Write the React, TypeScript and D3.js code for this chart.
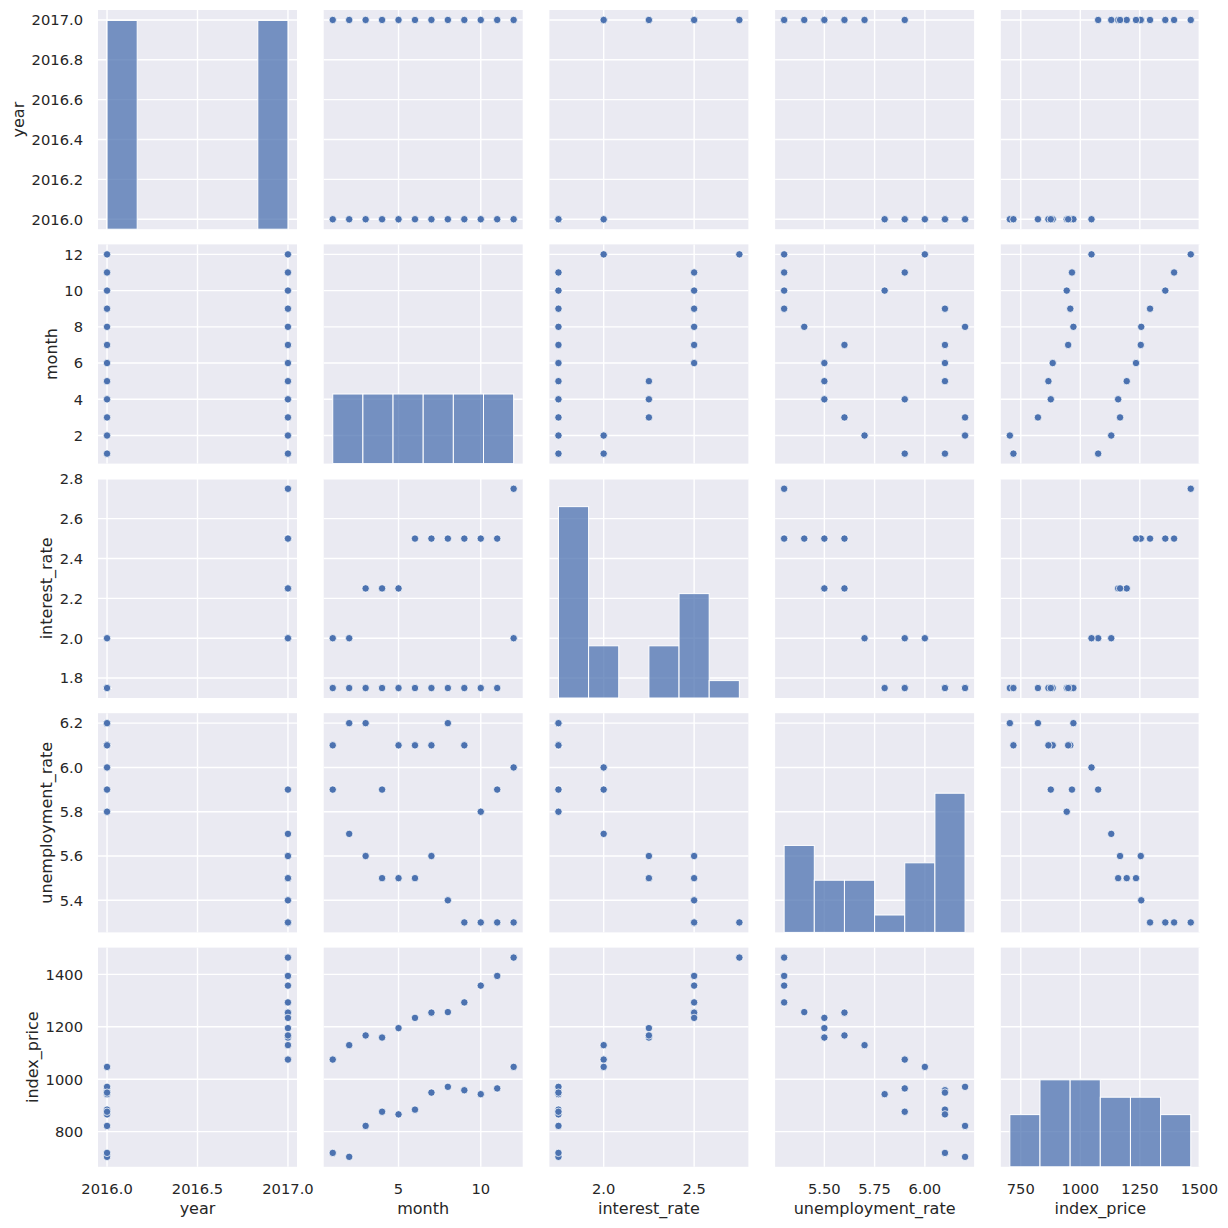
import React from 'react';
import * as d3 from 'd3';

// ---- data (economic index dataset) ----
const years = [2017, 2017, 2017, 2017, 2017, 2017, 2017, 2017, 2017, 2017, 2017, 2017, 2016, 2016, 2016, 2016, 2016, 2016, 2016, 2016, 2016, 2016, 2016, 2016];
const months = [12, 11, 10, 9, 8, 7, 6, 5, 4, 3, 2, 1, 12, 11, 10, 9, 8, 7, 6, 5, 4, 3, 2, 1];
const interestRates = [2.75, 2.5, 2.5, 2.5, 2.5, 2.5, 2.5, 2.25, 2.25, 2.25, 2, 2, 2, 1.75, 1.75, 1.75, 1.75, 1.75, 1.75, 1.75, 1.75, 1.75, 1.75, 1.75];
const unemploymentRates = [5.3, 5.3, 5.3, 5.3, 5.4, 5.6, 5.5, 5.5, 5.5, 5.6, 5.7, 5.9, 6, 5.9, 5.8, 6.1, 6.2, 6.1, 6.1, 6.1, 5.9, 6.2, 6.2, 6.1];
const indexPrices = [1464, 1394, 1357, 1293, 1256, 1254, 1234, 1195, 1159, 1167, 1130, 1075, 1047, 965, 943, 958, 971, 949, 884, 866, 876, 822, 704, 719];

// histogram counts (6 bins each)
const yearHist = [12, 0, 0, 0, 0, 12];
const monthHist = [4, 4, 4, 4, 4, 4];
const interestHist = [11, 3, 0, 3, 6, 1];
const unemploymentHist = [5, 3, 3, 1, 4, 8];
const indexHist = [3, 5, 5, 4, 4, 3];

// ticks
const yearYTicks = [2016.0, 2016.2, 2016.4, 2016.6, 2016.8, 2017.0];
const yearXTicks = [2016.0, 2016.5, 2017.0];
const monthYTicks = [2, 4, 6, 8, 10, 12];
const monthXTicks = [5, 10];
const interestYTicks = [1.8, 2.0, 2.2, 2.4, 2.6, 2.8];
const interestXTicks = [2.0, 2.5];
const unemploymentYTicks = [5.4, 5.6, 5.8, 6.0, 6.2];
const unemploymentXTicks = [5.5, 5.75, 6.0];
const indexYTicks = [800, 1000, 1200, 1400];
const indexXTicks = [750, 1000, 1250, 1500];

const names = ['year', 'month', 'interest_rate', 'unemployment_rate', 'index_price'];

const vars = [
  { name: names[0], values: years, hist: yearHist, xTicks: yearXTicks, yTicks: yearYTicks, xFmt: d3.format('.1f'), yFmt: d3.format('.1f') },
  { name: names[1], values: months, hist: monthHist, xTicks: monthXTicks, yTicks: monthYTicks, xFmt: d3.format('d'), yFmt: d3.format('d') },
  { name: names[2], values: interestRates, hist: interestHist, xTicks: interestXTicks, yTicks: interestYTicks, xFmt: d3.format('.1f'), yFmt: d3.format('.1f') },
  { name: names[3], values: unemploymentRates, hist: unemploymentHist, xTicks: unemploymentXTicks, yTicks: unemploymentYTicks, xFmt: d3.format('.2f'), yFmt: d3.format('.1f') },
  { name: names[4], values: indexPrices, hist: indexHist, xTicks: indexXTicks, yTicks: indexYTicks, xFmt: d3.format('d'), yFmt: d3.format('d') },
];

// ---- layout ----
const W = 1228;
const H = 1228;
const left0 = 98;
const colStep = 225.7;
const cellW = 199;
const top0 = 10;
const rowStep = 234.4;
const cellH = 219.2;

const BG = '#EAEAF2';
const BLUE = '#4C72B0';
const TEXT = '#262626';
const FONT = 'DejaVu Sans, sans-serif';
const TICK_FS = 14.7;
const LABEL_FS = 16;

function textWidth(s: string, fs: number) {
  let w = 0;
  for (const c of s) {
    if (c === '.') w += 0.318;
    else if (c === '-') w += 0.361;
    else w += 0.636;
  }
  return w * fs;
}

function domainOf(vals: number[]): [number, number] {
  const [mn, mx] = d3.extent(vals) as [number, number];
  const pad = (mx - mn) * 0.05;
  return [mn - pad, mx + pad];
}

export default function App() {
  const n = vars.length;
  const xScales = vars.map((v, j) =>
    d3.scaleLinear().domain(domainOf(v.values)).range([left0 + j * colStep, left0 + j * colStep + cellW])
  );
  const yScales = vars.map((v, i) =>
    d3.scaleLinear().domain(domainOf(v.values)).range([top0 + i * rowStep + cellH, top0 + i * rowStep])
  );
  const maxCount = d3.max(vars.flatMap((v) => v.hist)) as number;

  const cells: React.ReactNode[] = [];
  for (let i = 0; i < n; i++) {
    for (let j = 0; j < n; j++) {
      const x = xScales[j];
      const y = yScales[i];
      const cx0 = left0 + j * colStep;
      const cy0 = top0 + i * rowStep;
      const items: React.ReactNode[] = [];
      items.push(<rect key="bg" x={cx0} y={cy0} width={cellW} height={cellH} fill={BG} />);
      vars[j].xTicks.forEach((t, k) => {
        items.push(
          <line key={'gx' + k} x1={x(t)} x2={x(t)} y1={cy0} y2={cy0 + cellH} stroke="#fff" strokeWidth={1.4} />
        );
      });
      vars[i].yTicks.forEach((t, k) => {
        items.push(
          <line key={'gy' + k} x1={cx0} x2={cx0 + cellW} y1={y(t)} y2={y(t)} stroke="#fff" strokeWidth={1.4} />
        );
      });
      if (i === j) {
        const v = vars[j];
        const [mn, mx] = d3.extent(v.values) as [number, number];
        const edges = d3.range(v.hist.length + 1).map((k) => mn + (k * (mx - mn)) / v.hist.length);
        const hy = d3.scaleLinear().domain([0, maxCount * 1.05]).range([cy0 + cellH, cy0]);
        v.hist.forEach((c, k) => {
          if (c <= 0) return;
          items.push(
            <rect
              key={'h' + k}
              x={x(edges[k])}
              y={hy(c)}
              width={x(edges[k + 1]) - x(edges[k])}
              height={hy(0) - hy(c)}
              fill={BLUE}
              fillOpacity={0.75}
              stroke="#fff"
              strokeWidth={1}
            />
          );
        });
      } else {
        vars[j].values.forEach((xv, k) => {
          const yv = vars[i].values[k];
          items.push(
            <circle key={'p' + k} cx={x(xv)} cy={y(yv)} r={3.7} fill={BLUE} stroke="#fff" strokeWidth={0.75} />
          );
        });
      }
      cells.push(<g key={`c${i}-${j}`}>{items}</g>);
    }
  }

  // y axes (left column)
  const yAxes = vars.map((v, i) => {
    const y = yScales[i];
    const labels = v.yTicks.map((t) => v.yFmt(t));
    const maxW = d3.max(labels, (s) => textWidth(s, TICK_FS)) as number;
    const tickRight = 83;
    const labelX = tickRight - maxW - 7.5;
    const cy = top0 + i * rowStep + cellH / 2;
    return (
      <g key={'ya' + i} fill={TEXT} fontFamily={FONT}>
        {v.yTicks.map((t, k) => (
          <text key={k} x={tickRight} y={y(t)} dy="0.36em" textAnchor="end" fontSize={TICK_FS}>
            {labels[k]}
          </text>
        ))}
        <text x={labelX} y={cy} textAnchor="middle" fontSize={LABEL_FS} transform={`rotate(-90 ${labelX} ${cy})`}>
          {v.name}
        </text>
      </g>
    );
  });

  // x axes (bottom row)
  const bottom = top0 + (n - 1) * rowStep + cellH;
  const xAxes = vars.map((v, j) => {
    const x = xScales[j];
    const cx = left0 + j * colStep + cellW / 2;
    return (
      <g key={'xa' + j} fill={TEXT} fontFamily={FONT}>
        {v.xTicks.map((t, k) => (
          <text key={k} x={x(t)} y={bottom + 27} textAnchor="middle" fontSize={TICK_FS}>
            {v.xFmt(t)}
          </text>
        ))}
        <text x={cx} y={bottom + 47.5} textAnchor="middle" fontSize={LABEL_FS}>
          {v.name}
        </text>
      </g>
    );
  });

  return (
    <svg
      width={W}
      height={H}
      viewBox={`0 0 ${W} ${H}`}
      style={{ position: 'absolute', left: 0, top: 0, background: '#fff' }}
    >
      <rect x={0} y={0} width={W} height={H} fill="#fff" />
      {cells}
      {yAxes}
      {xAxes}
    </svg>
  );
}
